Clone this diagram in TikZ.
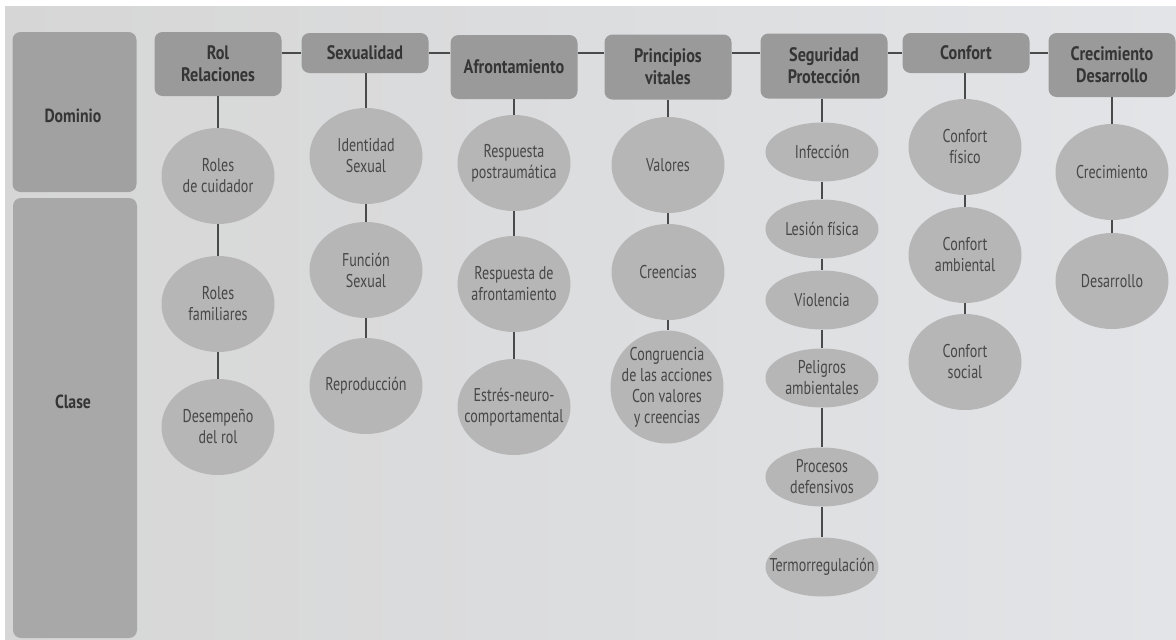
\documentclass[tikz,border=0pt]{standalone}
\usepackage{fontspec}
\setmainfont{PT Sans}[FakeStretch=0.76]
\newfontfamily\hdrfont{PT Sans}[FakeStretch=0.83]
\usetikzlibrary{shapes.geometric}
\definecolor{bgl}{HTML}{D6D6D6}
\definecolor{bgr}{HTML}{E2E4E7}
\definecolor{hdrc}{HTML}{9A9A9A}
\definecolor{ellc}{HTML}{B6B6B6}
\definecolor{domc}{HTML}{A1A1A1}
\definecolor{clac}{HTML}{A8A8A8}
\definecolor{hdrtext}{HTML}{353535}
\definecolor{elltext}{HTML}{474747}
\definecolor{linec}{HTML}{4A4A4A}
\tikzset{
  hdr/.style={fill=hdrc, rounded corners=8pt, minimum width=127pt, align=center,
    font=\hdrfont\bfseries\fontsize{19.5}{22}\selectfont, text=hdrtext, inner sep=2pt},
  cls/.style={ellipse, fill=ellc, minimum width=113pt, minimum height=96pt,
    inner xsep=-18pt, inner ysep=-12pt, align=center,
    font=\fontsize{18.5}{21}\selectfont, text=elltext},
  small/.style={minimum height=59pt},
  panel/.style={rounded corners=8pt, minimum width=124pt},
  paneltext/.style={font=\hdrfont\bfseries\fontsize{19}{21}\selectfont, text=hdrtext},
  conn/.style={draw=linec, line width=2pt}
}
\begin{document}
\begin{tikzpicture}[x=1pt,y=-1pt]
\useasboundingbox (0,0) rectangle (1176,640);
\fill[white] (0,0) rectangle (1176,640);
\shade[left color=bgl, right color=bgr] (5,6) rectangle (1176,640);

% left panel
\node[panel, fill=domc, minimum height=160pt] (dom) at (74.5,112) {};
\node[panel, fill=clac, minimum height=440pt] (cla) at (75,418) {};
\node[paneltext] (domt) at (73,116) {Dominio};
\node[paneltext] (clat) at (73,402) {Clase};

% headers
\node[hdr, minimum height=64pt] (rol) at (218,64) {Rol\\Relaciones};
\node[hdr, minimum height=40pt] (sex) at (365,53) {Sexualidad};
\node[hdr, minimum height=64pt] (afr) at (514,67) {Afrontamiento};
\node[hdr, minimum height=65pt] (pri) at (668,67) {Principios\\vitales};
\node[hdr, minimum height=65pt] (seg) at (824,66) {Seguridad\\Protección};
\node[hdr, minimum height=40pt] (conf) at (966,53) {Confort};
\node[hdr, minimum height=64pt] (crec) at (1112,65) {Crecimiento\\Desarrollo};

% header chain
\draw[conn] (rol.east |- sex.west) -- (sex.west);
\draw[conn] (sex.east) -- (sex.east -| afr.west);
\draw[conn] (afr.east |- sex.east) -- (pri.west |- sex.east);
\draw[conn] (pri.east |- sex.east) -- (seg.west |- sex.east);
\draw[conn] (seg.east |- conf.west) -- (conf.west);
\draw[conn] (conf.east) -- (conf.east -| crec.west);

% Rol / Relaciones
\node[cls] (r1) at (218,176) {Roles\\de cuidador};
\node[cls] (r2) at (218,304) {Roles\\familiares};
\node[cls] (r3) at (218,427) {Desempeño\\del rol};
\draw[conn] (rol.south) -- (r1.north);
\draw[conn] (r1.south) -- (r2.north);
\draw[conn] (r2.south) -- (r3.north);

% Sexualidad
\node[cls] (s1) at (366,156) {Identidad\\Sexual};
\node[cls] (s2) at (366,270) {Función\\Sexual};
\node[cls] (s3) at (366,386) {Reproducción};
\draw[conn] (s1.north |- sex.south) -- (s1.north);
\draw[conn] (s1.south) -- (s2.north);
\draw[conn] (s2.south) -- (s3.north);

% Afrontamiento
\node[cls] (a1) at (514,163) {Respuesta\\postraumática};
\node[cls] (a2) at (514,284) {Respuesta de\\afrontamiento};
\node[cls] (a3) at (514,407) {Estrés-neuro-\\comportamental};
\draw[conn] (afr.south) -- (a1.north);
\draw[conn] (a1.south) -- (a2.north);
\draw[conn] (a2.south) -- (a3.north);

% Principios vitales
\node[cls] (p1) at (668,165) {Valores};
\node[cls] (p2) at (668,272) {Creencias};
\node[cls, minimum height=113pt] (p3) at (667,387) {Congruencia\\de las acciones\\Con valores\\y creencias};
\draw[conn] (pri.south) -- (p1.north);
\draw[conn] (p1.south) -- (p2.north);
\draw[conn] (p2.south) -- (p3.north -| p2.south);

% Seguridad / Proteccion
\node[cls, small] (g1) at (822,152) {Infección};
\node[cls, small] (g2) at (822,229) {Lesión física};
\node[cls, small] (g3) at (822,300) {Violencia};
\node[cls, small] (g4) at (822,378) {Peligros\\ambientales};
\node[cls, small] (g5) at (822,477) {Procesos\\defensivos};
\node[cls, small] (g6) at (822,567) {Termorregulación};
\draw[conn] (g1.north |- seg.south) -- (g1.north);
\draw[conn] (g1.south) -- (g2.north);
\draw[conn] (g2.south) -- (g3.north);
\draw[conn] (g3.south) -- (g4.north);
\draw[conn] (g4.south) -- (g5.north);
\draw[conn] (g5.south) -- (g6.north);

% Confort
\node[cls] (c1) at (965,147) {Confort\\físico};
\node[cls] (c2) at (965,255) {Confort\\ambiental};
\node[cls] (c3) at (965,362) {Confort\\social};
\draw[conn] (c1.north |- conf.south) -- (c1.north);
\draw[conn] (c1.south) -- (c2.north);
\draw[conn] (c2.south) -- (c3.north);

% Crecimiento / Desarrollo
\node[cls] (d1) at (1112,172) {Crecimiento};
\node[cls] (d2) at (1112,281) {Desarrollo};
\draw[conn] (crec.south) -- (d1.north);
\draw[conn] (d1.south) -- (d2.north);
\end{tikzpicture}
\end{document}
